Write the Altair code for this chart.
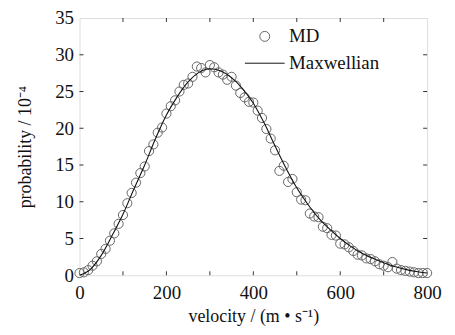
import altair as alt
import pandas as pd

# MD simulation points (velocity in m/s, probability in 1e-4)
md_v = list(range(0, 801, 10))
md_p = [0.3, 0.4, 0.7, 1.3, 1.9, 2.9, 3.6, 4.7, 5.7, 7.0,
        8.2, 9.8, 11.2, 12.6, 13.9, 14.8, 16.9, 17.8, 19.4, 20.1,
        22.0, 23.0, 23.8, 25.0, 25.9, 26.1, 27.0, 28.4, 28.2, 27.6,
        28.6, 28.3, 27.6, 27.3, 26.6, 27.0, 25.8, 24.8, 24.2, 23.6,
        23.5, 22.4, 21.4, 19.9, 18.6, 17.0, 14.2, 14.9, 12.7, 13.1,
        11.3, 10.3, 10.2, 8.4, 8.0, 7.9, 6.6, 6.4, 5.5, 5.4,
        4.3, 4.2, 3.8, 3.3, 2.8, 2.7, 2.3, 2.2, 1.9, 1.5,
        1.3, 1.1, 1.8, 0.9, 0.7, 0.6, 0.5, 0.4, 0.3, 0.3, 0.3]

# Maxwellian curve
mx_v = list(range(0, 801, 25))
mx_p = [0.0, 0.8, 2.7, 5.4, 8.3, 11.7, 15.0, 18.6, 21.8, 24.3,
        26.3, 27.6, 28.1, 27.8, 26.9, 25.4, 23.4, 20.7, 17.6, 14.6,
        11.9, 9.7, 7.8, 6.3, 5.0, 3.9, 3.0, 2.3, 1.7, 1.2,
        0.8, 0.5, 0.3]

series = ["MD", "Maxwellian"]
x_ticks = [0, 200, 400, 600, 800]
x_minor = [100, 200, 300, 400, 500, 600, 700]
y_ticks = [0, 5, 10, 15, 20, 25, 30, 35]
y_minor = [5, 10, 15, 20, 25, 30]

W, H = 350, 259
FONT = "Liberation Serif"

md_df = pd.DataFrame({"v": md_v, "p": md_p, "series": "MD"})
mx_df = pd.DataFrame({"v": mx_v, "p": mx_p, "series": "Maxwellian"})
xt_df = pd.DataFrame({"v": x_minor})
yt_df = pd.DataFrame({"p": y_minor})

xs = alt.Scale(domain=[0, 800], nice=False, zero=False)
ys = alt.Scale(domain=[0, 35], nice=False, zero=False)

color = alt.Color("series:N",
                  scale=alt.Scale(domain=series, range=["#666666", "#111111"]),
                  legend=alt.Legend(title=None, orient="none", legendX=177, legendY=9,
                                    labelFont=FONT, labelFontSize=19, labelColor="#111",
                                    rowPadding=7, symbolStrokeWidth=1, padding=0,
                                    labelOffset=15))
shape = alt.Shape("series:N",
                  scale=alt.Scale(domain=series, range=["circle", "M-4,0H4"]))

xaxis = alt.Axis(values=x_ticks, title="velocity / (m • s⁻¹)", grid=False, domain=False,
                 ticks=False, labelFont=FONT, labelFontSize=19, labelColor="#111",
                 labelPadding=8, labelOverlap=False, labelFlush=False, labelBound=False,
                 titleFont=FONT, titleFontSize=18, titleFontWeight="normal",
                 titleColor="#111", titlePadding=6)
yaxis = alt.Axis(values=y_ticks, title="probability / 10⁻⁴", grid=False, domain=False,
                 ticks=False, labelFont=FONT, labelFontSize=19, labelColor="#111",
                 labelPadding=6, labelOverlap=False, labelFlush=False, labelBound=False,
                 titleFont=FONT, titleFontSize=18, titleFontWeight="normal",
                 titleColor="#111", titlePadding=20)

X = alt.X("v:Q", scale=xs, axis=xaxis)
Y = alt.Y("p:Q", scale=ys, axis=yaxis)

points = alt.Chart(md_df).mark_point(filled=False, size=85, strokeWidth=1, opacity=1).encode(
    x=X, y=Y, color=color, shape=shape,
)

line = alt.Chart(mx_df).mark_line(strokeWidth=1.1, interpolate="monotone").encode(
    x=X, y=Y,
    color=alt.Color("series:N", scale=alt.Scale(domain=series, range=["#666666", "#111111"])),
)

tick_col = "#333"
bt = alt.Chart(xt_df).mark_rule(color=tick_col, strokeWidth=1).encode(
    x=X, y=alt.value(H), y2=alt.value(H - 4))
tt = alt.Chart(xt_df).mark_rule(color=tick_col, strokeWidth=1).encode(
    x=X, y=alt.value(0), y2=alt.value(4))
lt = alt.Chart(yt_df).mark_rule(color=tick_col, strokeWidth=1).encode(
    y=Y, x=alt.value(0), x2=alt.value(4))
rt = alt.Chart(yt_df).mark_rule(color=tick_col, strokeWidth=1).encode(
    y=Y, x=alt.value(W), x2=alt.value(W - 4))

chart = alt.layer(points, line, bt, tt, lt, rt).properties(
    width=W, height=H,
    autosize=alt.AutoSizeParams(type="none"),
    padding={"left": 72, "top": 9, "right": 20, "bottom": 50},
).configure_view(stroke="#444", strokeWidth=1).configure(background="white")

chart.save("out.html", embed_options={"renderer": "svg", "actions": False})
